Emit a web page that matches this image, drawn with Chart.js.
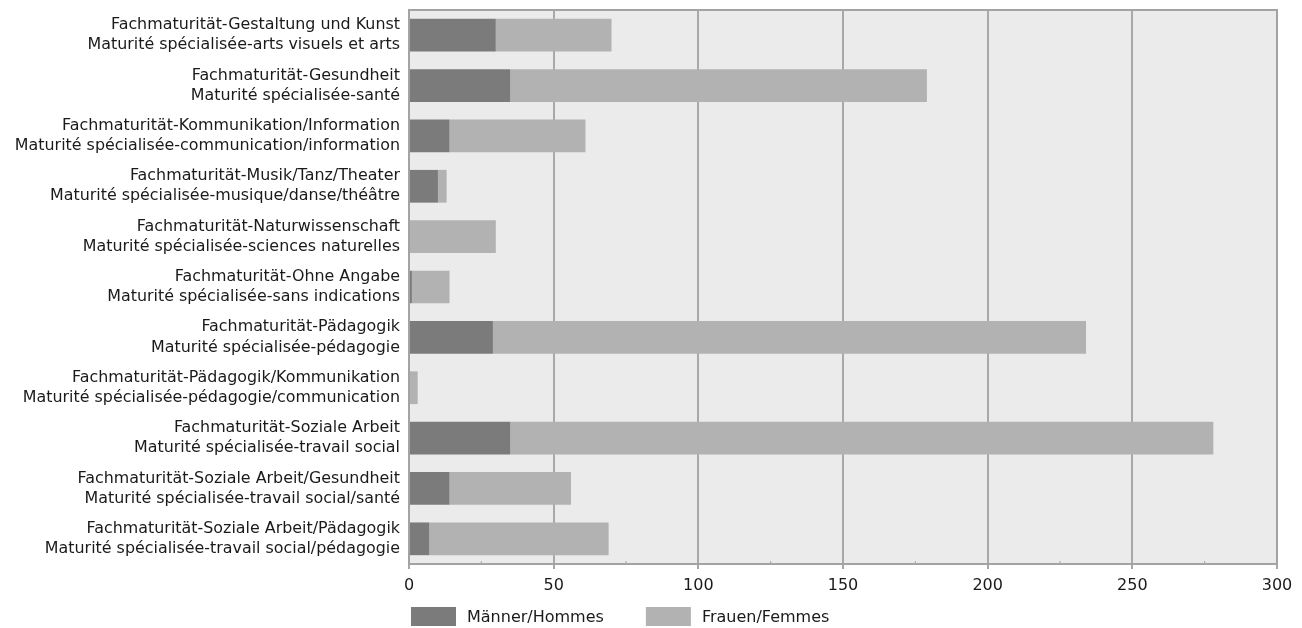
<!DOCTYPE html>
<html>
<head>
<meta charset="utf-8">
<script src="https://cdn.jsdelivr.net/npm/chart.js@4/dist/chart.umd.min.js"></script>
<style>
  html, body { margin: 0; padding: 0; background: #ffffff; }
  #wrap { width: 1302px; height: 628px; position: relative; }
</style>
</head>
<body>
<div id="wrap"><canvas id="c" width="1302" height="628"></canvas></div>
<script>
// Fachmaturitäten nach Richtung und Geschlecht
const labelsDe = [
  'Fachmaturität-Gestaltung und Kunst',
  'Fachmaturität-Gesundheit',
  'Fachmaturität-Kommunikation/Information',
  'Fachmaturität-Musik/Tanz/Theater',
  'Fachmaturität-Naturwissenschaft',
  'Fachmaturität-Ohne Angabe',
  'Fachmaturität-Pädagogik',
  'Fachmaturität-Pädagogik/Kommunikation',
  'Fachmaturität-Soziale Arbeit',
  'Fachmaturität-Soziale Arbeit/Gesundheit',
  'Fachmaturität-Soziale Arbeit/Pädagogik'
];
const labelsFr = [
  'Maturité spécialisée-arts visuels et arts',
  'Maturité spécialisée-santé',
  'Maturité spécialisée-communication/information',
  'Maturité spécialisée-musique/danse/théâtre',
  'Maturité spécialisée-sciences naturelles',
  'Maturité spécialisée-sans indications',
  'Maturité spécialisée-pédagogie',
  'Maturité spécialisée-pédagogie/communication',
  'Maturité spécialisée-travail social',
  'Maturité spécialisée-travail social/santé',
  'Maturité spécialisée-travail social/pédagogie'
];
const maenner = [30, 35, 14, 10, 0, 1, 29, 0, 35, 14, 7];
const frauen  = [40, 144, 47, 3, 30, 13, 205, 3, 243, 42, 62];
const seriesNames = ['Männer/Hommes', 'Frauen/Femmes'];
const xTicks = [0, 50, 100, 150, 200, 250, 300];

const FONT = '"DejaVu Sans", "Open Sans", sans-serif';
const TEXT = '#1a1a1a';
const COLOR_M = '#7b7b7b';
const COLOR_F = '#b2b2b2';
const FRAME = '#a3a3a3';

// plot background, top/right frame, minor ticks and legend
const frame = {
  id: 'frame',
  beforeDraw(chart) {
    const { ctx, chartArea: a } = chart;
    ctx.save();
    ctx.fillStyle = '#ebebeb';
    ctx.fillRect(a.left, a.top, a.right - a.left, a.bottom - a.top);
    ctx.restore();
  },
  afterDraw(chart) {
    const { ctx, chartArea: a, scales } = chart;
    ctx.save();
    ctx.strokeStyle = FRAME;
    ctx.lineWidth = 2;
    ctx.beginPath();
    ctx.moveTo(a.left, a.top);
    ctx.lineTo(a.right, a.top);
    ctx.lineTo(a.right, a.bottom);
    ctx.stroke();
    // minor ticks between the labelled values
    ctx.lineWidth = 1;
    for (let i = 0; i < xTicks.length - 1; i++) {
      const x = scales.x.getPixelForValue((xTicks[i] + xTicks[i + 1]) / 2);
      ctx.beginPath();
      ctx.moveTo(x, a.bottom - 3);
      ctx.lineTo(x, a.bottom + 1);
      ctx.stroke();
    }
    // legend
    const items = chart.data.datasets.map(d => ({ label: d.label, color: d.backgroundColor }));
    ctx.font = '16px ' + FONT;
    ctx.textBaseline = 'middle';
    ctx.textAlign = 'left';
    const boxW = 45, boxH = 19, gap = 11, itemGap = 42;
    let x = 411;
    const y = 607;
    items.forEach(it => {
      ctx.fillStyle = it.color;
      ctx.fillRect(x, y, boxW, boxH);
      ctx.fillStyle = TEXT;
      ctx.fillText(it.label, x + boxW + gap, y + boxH / 2 + 1);
      x += boxW + gap + ctx.measureText(it.label).width + itemGap;
    });
    ctx.restore();
  }
};

new Chart(document.getElementById('c'), {
  type: 'bar',
  data: {
    labels: labelsDe.map((de, i) => [de, labelsFr[i]]),
    datasets: [
      { label: seriesNames[0], data: maenner, backgroundColor: COLOR_M, borderWidth: 0 },
      { label: seriesNames[1], data: frauen, backgroundColor: COLOR_F, borderWidth: 0 }
    ]
  },
  options: {
    indexAxis: 'y',
    responsive: false,
    animation: false,
    devicePixelRatio: 1,
    layout: { padding: { top: 10, right: 25, left: 0, bottom: 0 } },
    datasets: { bar: { categoryPercentage: 1, barPercentage: 0.65 } },
    plugins: {
      legend: { display: false },
      tooltip: { enabled: false }
    },
    scales: {
      x: {
        stacked: true,
        min: 0,
        max: 300,
        afterBuildTicks(scale) { scale.ticks = xTicks.map(v => ({ value: v })); },
        afterFit(scale) { scale.height = 64; },
        ticks: {
          color: TEXT,
          font: { family: FONT, size: 16 },
          padding: 7,
          maxRotation: 0
        },
        grid: { color: '#a8a8a8', lineWidth: 2, tickLength: 5, drawOnChartArea: true },
        border: { display: true, color: FRAME, width: 2 }
      },
      y: {
        stacked: true,
        afterFit(scale) {
          scale.width = 409;
          scale.paddingTop = 0;
          scale.paddingBottom = 0;
        },
        ticks: {
          color: TEXT,
          font: { family: FONT, size: 15.9, lineHeight: 1.26 },
          padding: 9,
          autoSkip: false
        },
        grid: { display: false, drawTicks: false },
        border: { display: true, color: FRAME, width: 2 }
      }
    }
  },
  plugins: [frame]
});
</script>
</body>
</html>
